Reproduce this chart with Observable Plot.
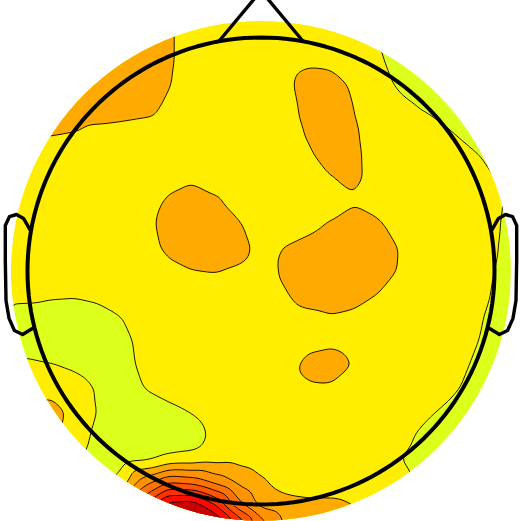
<!DOCTYPE html>
<html><head><meta charset="utf-8">
<script src="https://cdn.jsdelivr.net/npm/d3@7"></script>
<script src="https://cdn.jsdelivr.net/npm/@observablehq/plot@0.6"></script>
<style>html,body{margin:0;padding:0;background:#fff;} #chart svg{display:block;}</style>
</head><body><div id="chart"></div>
<script>
// Field values on a 23 x 23 sensor grid (head-radius units, 0.1 apart),
// rows run from top (y = 1.1) to bottom (y = -1.1), columns from left (x = -1.1) to right (x = 1.1).
const fieldRows = [
  [2.4,2.4,2.4,2.4,2.4,2.4,2.4,2.2,1.5,1.5,1.5,1.5,1.5,1.5,1.5,1.4,0.9,0.5,0.5,0.5,0.5,0.5,0.5],
  [2.4,2.4,2.4,2.4,2.4,2.4,2.4,2.2,1.5,1.5,1.5,1.5,1.5,1.5,1.5,1.5,1.0,0.6,0.5,0.5,0.5,0.5,0.5],
  [2.4,2.4,2.4,2.4,2.4,2.5,2.5,2.2,1.5,1.5,1.5,1.5,1.5,1.8,1.67,1.5,1.2,0.5,0.5,0.5,0.5,0.5,0.5],
  [2.4,2.4,2.4,2.5,2.5,2.5,2.5,2.1,1.5,1.5,1.5,1.5,1.7,2.47,2.5,1.77,1.5,0.75,0.5,0.5,0.5,0.5,0.5],
  [2.2,2.3,2.3,2.45,2.5,2.45,2.33,1.83,1.5,1.5,1.5,1.5,1.57,2.3,2.5,1.98,1.5,1.31,0.92,0.5,0.5,0.5,0.5],
  [2.0,2.2,2.15,2.03,1.8,1.7,1.57,1.5,1.5,1.5,1.5,1.5,1.5,2.1,2.5,2.13,1.5,1.5,1.5,1.08,0.57,0.5,0.5],
  [1.5,1.5,1.5,1.5,1.5,1.5,1.5,1.5,1.5,1.5,1.5,1.5,1.5,1.83,2.5,2.23,1.5,1.5,1.5,1.5,1.15,0.7,0.5],
  [1.5,1.5,1.5,1.5,1.5,1.5,1.5,1.63,1.83,1.5,1.5,1.5,1.5,1.5,1.98,2.27,1.5,1.5,1.5,1.5,1.5,1.0,0.6],
  [1.5,1.5,1.5,1.5,1.5,1.5,1.5,2.13,2.5,2.16,1.6,1.5,1.5,1.5,1.5,1.88,1.57,1.5,1.5,1.5,1.5,1.26,0.55],
  [1.5,1.5,1.5,1.5,1.5,1.5,1.63,2.4,2.6,2.55,2.13,1.5,1.5,1.71,2.08,2.5,2.17,1.53,1.5,1.5,1.5,1.17,0.5],
  [1.5,1.5,1.5,1.5,1.5,1.5,1.5,2.23,2.5,2.5,2.43,1.67,2.03,2.3,2.6,2.6,2.5,1.91,1.5,1.5,1.5,1.1,0.5],
  [1.5,1.5,1.5,1.5,1.5,1.5,1.5,1.7,1.97,2.05,1.87,1.5,2.17,2.6,2.6,2.6,2.6,1.85,1.5,1.5,1.5,1.0,0.5],
  [1.3,1.3,1.15,1.1,1.23,1.5,1.5,1.5,1.5,1.5,1.5,1.5,1.9,2.45,2.5,2.43,1.97,1.5,1.5,1.5,1.5,0.9,0.5],
  [0.8,0.53,0.5,0.5,0.63,0.97,1.5,1.5,1.5,1.5,1.5,1.5,1.5,1.73,1.91,1.74,1.5,1.5,1.5,1.5,1.41,0.63,0.5],
  [0.5,0.5,0.5,0.5,0.5,0.63,1.37,1.5,1.5,1.5,1.5,1.5,1.5,1.68,1.77,1.5,1.5,1.5,1.5,1.5,1.23,0.5,0.5],
  [1.3,1.18,1.03,0.83,0.5,0.53,1.29,1.5,1.5,1.5,1.5,1.5,1.53,2.3,2.55,1.93,1.5,1.5,1.5,1.5,0.95,0.5,0.5],
  [1.5,1.6,1.75,1.4,0.93,0.5,1.03,1.43,1.5,1.5,1.5,1.5,1.5,1.85,1.86,1.6,1.5,1.5,1.5,1.39,0.65,0.5,0.5],
  [2.2,2.3,2.3,1.8,0.95,0.5,0.55,0.7,1.03,1.5,1.5,1.5,1.5,1.5,1.5,1.5,1.5,1.5,1.28,0.74,0.5,0.5,0.5],
  [1.5,1.9,2.2,1.67,0.7,0.5,0.5,0.5,0.5,1.23,1.5,1.5,1.5,1.5,1.5,1.5,1.5,1.37,0.73,0.5,0.5,0.5,0.5],
  [1.5,1.6,1.6,1.2,0.5,0.5,0.6,1.05,1.2,1.5,1.65,1.5,1.5,1.5,1.5,1.5,1.5,1.0,0.55,0.5,0.5,0.5,0.5],
  [1.3,1.3,1.3,1.3,0.6,1.2,3.5,4.8,4.5,3.6,2.7,2.1,1.65,1.5,1.5,1.5,1.5,1.3,0.7,0.5,0.5,0.5,0.5],
  [1.3,1.3,1.3,1.3,0.8,3.0,6.0,8.5,8.7,7.1,4.3,2.6,2.3,2.2,2.2,2.0,1.5,1.1,0.6,0.5,0.5,0.5,0.5],
  [1.3,1.3,1.3,1.3,1.0,2.5,6.0,9.0,9.5,9.7,7.7,4.9,3.1,2.7,2.5,2.2,1.6,1.2,0.7,0.5,0.5,0.5,0.5]
];
const gridStart = -1.1;
const gridStep = 0.1;

// Contour levels and band colours (lowest band first)
const levels = [0, 1, 2, 3, 4, 5, 6, 7, 8];
const bandColors = ["#dcff1c", "#ffee00", "#ffaa00", "#ff9200", "#ff7400", "#ff5500", "#ff3000", "#ff0a00", "#c80000"];

// Head outline (head-radius units)
const headRadius = 1;
const fieldRadius = 1.07;
const earX = [-0.987, -1.017, -1.047, -1.077, -1.095, -1.095, -1.092, -1.079, -1.056, -1.021, -0.979];
const earY = [0.173, 0.225, 0.242, 0.233, 0.195, 0.045, -0.126, -0.203, -0.255, -0.272, -0.246];
const noseBaseX = [-0.18, 0.18];
const noseBaseY = [0.984, 0.984];
const noseTip = {x: 0, y: 1.2};

const n = fieldRows.length;
const gridX = d3.range(n).map(i => gridStart + i * gridStep);
const gridY = d3.range(n).map(j => -gridStart - j * gridStep);
const points = fieldRows.flatMap((row, j) => row.map((v, i) => ({x: gridX[i], y: gridY[j], v})));

const head = d3.range(0, 361, 2).map(a => ({x: headRadius * Math.cos(a * Math.PI / 180), y: headRadius * Math.sin(a * Math.PI / 180)}));
const leftEar = earX.map((x, k) => ({x, y: earY[k]}));
const rightEar = earX.map((x, k) => ({x: -x, y: earY[k]}));
const noseSides = noseBaseX.map((x, k) => ({x1: x, y1: noseBaseY[k], x2: noseTip.x, y2: noseTip.y}));

const plot = Plot.plot({
  width: 521, height: 521, margin: 0,
  x: {domain: [-1.1156, 1.1156], axis: null},
  y: {domain: [-1.0728, 1.1585], axis: null},
  color: {type: "threshold", domain: levels.slice(1), range: bandColors},
  marks: [
    Plot.contour(points, {x: "x", y: "y", fill: "v", interpolate: "barycentric", thresholds: levels, blur: 4, pixelSize: 1, stroke: "black", strokeWidth: 0.9}),
    Plot.line(head, {x: "x", y: "y", stroke: "black", strokeWidth: 4}),
    Plot.link(noseSides, {x1: "x1", y1: "y1", x2: "x2", y2: "y2", stroke: "black", strokeWidth: 3.4}),
    Plot.line(leftEar, {x: "x", y: "y", stroke: "black", strokeWidth: 3.4}),
    Plot.line(rightEar, {x: "x", y: "y", stroke: "black", strokeWidth: 3.4})
  ]
});

const sx = plot.scale("x"), sy = plot.scale("y");
const cx = sx.apply(0), cy = sy.apply(0), r = sx.apply(fieldRadius) - cx;
const svg = d3.select(plot);
svg.insert("defs", ":first-child").append("clipPath").attr("id", "disk")
  .append("circle").attr("cx", cx).attr("cy", cy).attr("r", r);
svg.select('g[aria-label="contour"]').attr("clip-path", "url(#disk)");
document.getElementById("chart").appendChild(plot);
</script>
</body></html>
